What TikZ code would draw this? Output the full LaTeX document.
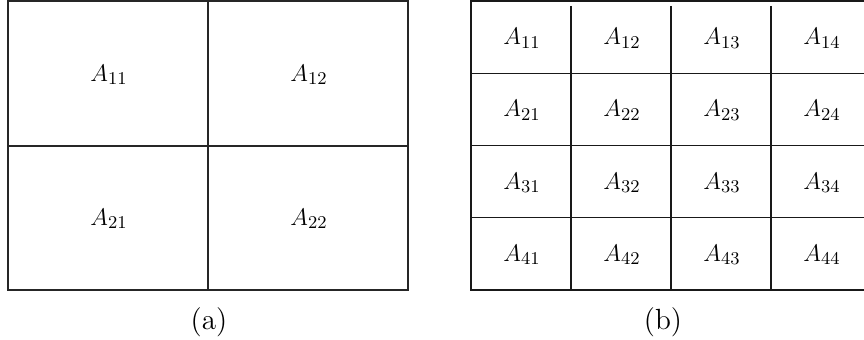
\documentclass[tikz,border=0pt]{standalone}
\usepackage{amsmath}
\usetikzlibrary{positioning}

\begin{document}
\begin{tikzpicture}[
    x=0.5pt, y=-0.5pt,
    bigline/.style={line width=1.1pt, draw=black!85},
    smallline/.style={line width=0.7pt, draw=black!90},
    cell/.style={inner sep=0pt, font=\fontsize{13}{15}\selectfont},
    caption/.style={inner sep=0pt, font=\fontsize{14.6}{17}\selectfont}
  ]
    \clip (0,0) rectangle (864,340);

    % (a): 2x2 blocks
    \draw[bigline] (8,1) rectangle (408,290);
    \draw[bigline] (8,146) -- (408,146);
    \draw[bigline] (208,1) -- (208,290);
    \node[cell] (a11) at (109,75) {$A_{11}$};
    \node[cell] (a12) at (309,75) {$A_{12}$};
    \node[cell] (a21) at (109,219) {$A_{21}$};
    \node[cell] (a22) at (309,219) {$A_{22}$};
    \node[caption] (capa) at (209,322) {(a)};

    % (b): 4x4 blocks
    \draw[smallline] (471,1) rectangle (871,290);
    \foreach \r in {1,2,3}
      \draw[smallline] (471,1+72.25*\r) -- (871,1+72.25*\r);
    \foreach \c in {1,2,3}
      \draw[smallline] (471+100*\c,6) -- (471+100*\c,290);
    \foreach \r in {1,...,4}
      \foreach \c in {1,...,4}
        \node[cell] (b\r\c) at (422+100*\c,2+72.25*\r-36) {$A_{\r\c}$};
    \node[caption] (capb) at (663,322) {(b)};
  \end{tikzpicture}
\end{document}
